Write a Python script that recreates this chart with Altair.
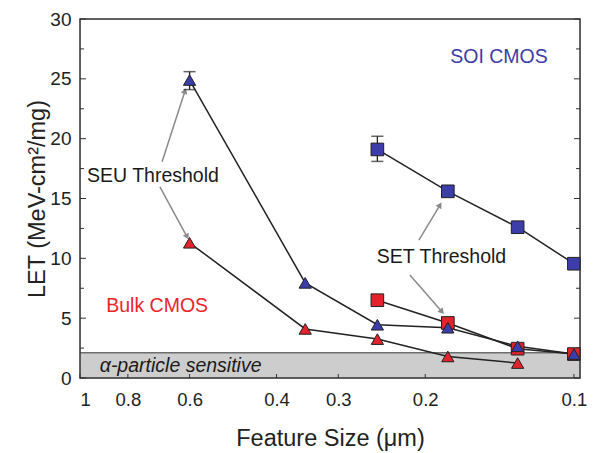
import altair as alt
import pandas as pd

# ---------------- data ----------------
seu_soi_x = [0.6, 0.35, 0.25, 0.18, 0.13, 0.1]
seu_soi_y = [24.9, 7.95, 4.45, 4.2, 2.65, 2.0]      # blue triangles
seu_bulk_x = [0.6, 0.35, 0.25, 0.18, 0.13]
seu_bulk_y = [11.3, 4.1, 3.25, 1.8, 1.25]           # red triangles
set_soi_x = [0.25, 0.18, 0.13, 0.1]
set_soi_y = [19.1, 15.6, 12.6, 9.55]                # blue squares
set_bulk_x = [0.25, 0.18, 0.13, 0.1]
set_bulk_y = [6.5, 4.6, 2.45, 2.0]                  # red squares

err_x = [0.6, 0.25]
err_lo = [24.1, 18.1]
err_hi = [25.6, 20.2]

band_top = 2.1

x_ticks = [1, 0.8, 0.6, 0.4, 0.3, 0.2, 0.1]
y_major = [0, 5, 10, 15, 20, 25, 30]
y_minor = [2.5, 7.5, 12.5, 17.5, 22.5, 27.5]

# arrows: start/end in data coords, angle of head
arr_x1 = [0.682, 0.689, 0.206, 0.2148]
arr_y1 = [18.07, 15.98, 11.53, 8.6]
arr_x2 = [0.613, 0.607, 0.1867, 0.185]
arr_y2 = [23.99, 11.80, 14.45, 5.54]
arr_ang = [19, 152, 31, 139]

lbl_text = ["SEU Threshold", "SET Threshold", "SOI CMOS", "Bulk CMOS"]
lbl_x = [0.968, 0.2506, 0.178, 0.885]
lbl_y = [16.9, 10.1, 26.85, 6.0]
lbl_col = ["#1a1a1a", "#1a1a1a", "#3d3da6", "#e8262a"]

BLUE = "#3c3caa"
RED = "#e3232b"
W, H = 500, 359
FONT = "Liberation Sans"

# ---------------- tables ----------------
def series(xs, ys, name):
    return pd.DataFrame({"x": xs, "y": ys, "s": name})

df_tri_b = series(seu_soi_x, seu_soi_y, "seu_soi")
df_tri_r = series(seu_bulk_x, seu_bulk_y, "seu_bulk")
df_sq_b = series(set_soi_x, set_soi_y, "set_soi")
df_sq_r = series(set_bulk_x, set_bulk_y, "set_bulk")
df_all = pd.concat([df_tri_b, df_tri_r, df_sq_b, df_sq_r])
df_err = pd.DataFrame({"x": err_x, "lo": err_lo, "hi": err_hi})
df_arr = pd.DataFrame({"x1": arr_x1, "y1": arr_y1, "x2": arr_x2, "y2": arr_y2, "a": arr_ang})
df_lbl = pd.DataFrame({"t": lbl_text, "x": lbl_x, "y": lbl_y, "c": lbl_col})

xs = alt.Scale(type="log", domain=[1, 0.0972], nice=False)
ys = alt.Scale(domain=[0, 30], nice=False, zero=False)

X = alt.X("x:Q", scale=xs, axis=alt.Axis(
    values=x_ticks, format=".1~f", title="Feature Size (μm)", tickSize=0,
    domain=False, grid=False, labelPadding=12, labelFontSize=18.5,
    titleFontSize=23.5, titlePadding=18, labelColor="#222", titleColor="#222",
    titleFontWeight="normal", labelFont=FONT, titleFont=FONT))
Y = alt.Y("y:Q", scale=ys, axis=alt.Axis(
    values=y_major, title="LET (MeV-cm²/mg)", tickSize=0, domain=False,
    grid=False, labelPadding=9, labelFontSize=19, titleFontSize=23.5,
    titlePadding=0, labelColor="#222", titleColor="#222",
    titleFontWeight="normal", labelFont=FONT, titleFont=FONT))

one = pd.DataFrame({"k": [0]})

# gray alpha band
band = alt.Chart(pd.DataFrame({"y0": [0], "y1": [band_top]})).mark_rect(
    color="#cdcdcd").encode(x=alt.value(0), x2=alt.value(W),
                           y=alt.Y("y0:Q", scale=ys), y2="y1:Q")
band_line = alt.Chart(pd.DataFrame({"y": [band_top]})).mark_rule(
    color="#6e6e6e", strokeWidth=1.5).encode(x=alt.value(0), x2=alt.value(W),
                                            y=alt.Y("y:Q", scale=ys))
band_txt = alt.Chart(pd.DataFrame({"x": [0.912], "y": [1.0], "t": ["α-particle sensitive"]})).mark_text(
    align="left", baseline="middle", fontStyle="italic", fontSize=19.5,
    font=FONT, color="#1a1a1a").encode(x=alt.X("x:Q", scale=xs), y=alt.Y("y:Q", scale=ys), text="t:N")

# inward ticks
tick_df_major = pd.DataFrame({"y": y_major})
tick_df_minor = pd.DataFrame({"y": y_minor})
yt = []
for d, L in [(tick_df_major, 6), (tick_df_minor, 4)]:
    yt.append(alt.Chart(d).mark_rule(color="#333").encode(
        y=alt.Y("y:Q", scale=ys), x=alt.value(0), x2=alt.value(L)))
    yt.append(alt.Chart(d).mark_rule(color="#333").encode(
        y=alt.Y("y:Q", scale=ys), x=alt.value(W - L), x2=alt.value(W)))
xt = alt.Chart(pd.DataFrame({"x": x_ticks})).mark_rule(color="#333").encode(
    x=alt.X("x:Q", scale=xs), y=alt.value(H - 4), y2=alt.value(H))

frame = alt.Chart(one).mark_rect(fill=None, stroke="#333", strokeWidth=1.5).encode(
    x=alt.value(0), x2=alt.value(W), y=alt.value(0), y2=alt.value(H))

# arrows
arr_lines = alt.Chart(df_arr).mark_rule(color="#8a8a8a", strokeWidth=1.5).encode(
    x=alt.X("x1:Q", scale=xs), y=alt.Y("y1:Q", scale=ys), x2="x2:Q", y2="y2:Q")
arr_heads = alt.Chart(df_arr).mark_point(shape="triangle-up", filled=True,
                                         color="#8a8a8a", size=45, opacity=1).encode(
    x=alt.X("x2:Q", scale=xs), y=alt.Y("y2:Q", scale=ys), angle=alt.Angle("a:Q", scale=None))

# error bars
err_rule = alt.Chart(df_err).mark_rule(color="#222", strokeWidth=1.3).encode(
    x=alt.X("x:Q", scale=xs), y=alt.Y("lo:Q", scale=ys), y2="hi:Q")
err_cap_lo = alt.Chart(df_err).mark_tick(color="#222", thickness=1.5, size=12, orient="horizontal").encode(
    x=alt.X("x:Q", scale=xs), y=alt.Y("lo:Q", scale=ys))
err_cap_hi = alt.Chart(df_err).mark_tick(color="#222", thickness=1.5, size=12, orient="horizontal").encode(
    x=alt.X("x:Q", scale=xs), y=alt.Y("hi:Q", scale=ys))

# lines
lines = alt.Chart(df_all).mark_line(color="#222", strokeWidth=1.5).encode(
    x=X, y=Y, detail="s:N")

def pts(df, shape, col, size):
    return alt.Chart(df).mark_point(shape=shape, filled=True, color=col, size=size,
                                    opacity=1, stroke="#222", strokeWidth=1).encode(
        x=alt.X("x:Q", scale=xs), y=alt.Y("y:Q", scale=ys))

sq_r = pts(df_sq_r, "square", RED, 160)
sq_b = pts(df_sq_b, "square", BLUE, 160)
tri_r = pts(df_tri_r, "triangle-up", RED, 150)
tri_b = pts(df_tri_b, "triangle-up", BLUE, 150)

labels = alt.Chart(df_lbl).mark_text(align="left", baseline="middle", fontSize=19.5,
                                     font=FONT).encode(
    x=alt.X("x:Q", scale=xs), y=alt.Y("y:Q", scale=ys), text="t:N",
    color=alt.Color("c:N", scale=None))

chart = alt.layer(
    band, band_line, band_txt, *yt, xt, arr_lines, arr_heads,
    lines, err_rule, err_cap_lo, err_cap_hi, sq_r, sq_b, tri_r, tri_b, labels, frame
).properties(
    width=W, height=H,
    autosize=alt.AutoSizeParams(type="none"),
    padding={"left": 72, "top": 11, "right": 7, "bottom": 74},
).configure_view(stroke=None).configure(background="white")

chart.save("out.html", embed_options={"renderer": "svg", "actions": False})
